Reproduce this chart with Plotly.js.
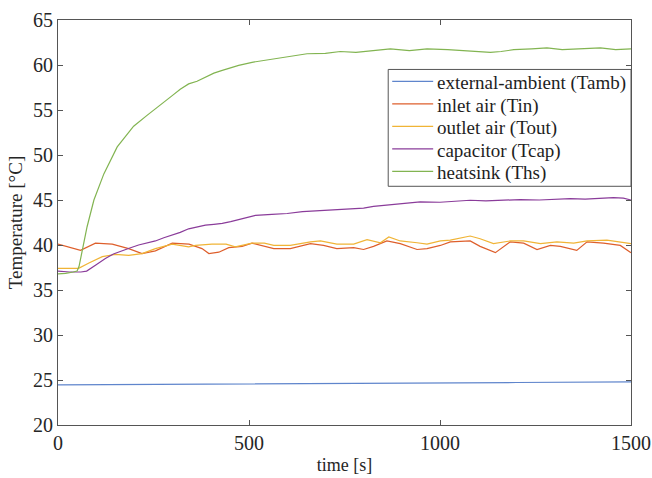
<!DOCTYPE html>
<html><head><meta charset="utf-8">
<script src="https://cdn.plot.ly/plotly-3.0.1.min.js"></script>
<style>html,body{margin:0;padding:0;background:#fff}#chart{width:652px;height:478px}</style>
</head><body><div id="chart"></div>
<script>
const ambT = [0, 300, 600, 900, 1200, 1500];
const ambV = [24.45, 24.5, 24.6, 24.65, 24.72, 24.8];

const inT = [0,28,59,98,142,185,220,255,299,343,377,395,421,447,482,508,540,565,608,661,695,730,774,800,826,861,896,940,966,1001,1027,1079,1105,1145,1184,1219,1254,1289,1315,1358,1385,1428,1472,1500];
const inV = [40.1,39.8,39.4,40.2,40.1,39.6,39.05,39.35,40.2,40.1,39.6,39.05,39.2,39.7,39.85,40.2,39.9,39.6,39.6,40.15,39.95,39.6,39.7,39.5,39.85,40.45,40.15,39.5,39.6,39.95,40.35,40.45,39.85,39.15,40.35,40.2,39.5,39.95,39.85,39.4,40.35,40.2,39.95,39.15];

const outT = [0,54,81,116,150,185,220,255,299,342,360,403,440,464,508,540,565,608,661,687,730,774,809,844,866,896,940,966,1001,1027,1079,1105,1140,1184,1219,1263,1306,1350,1385,1437,1500];
const outV = [37.4,37.4,38.0,38.7,38.95,38.85,39.05,39.6,40.1,39.8,39.95,40.1,40.1,39.8,40.2,40.2,39.95,39.95,40.35,40.45,40.1,40.1,40.6,40.25,40.9,40.45,40.25,40.1,40.45,40.55,41.0,40.7,40.15,40.45,40.45,40.15,40.35,40.2,40.45,40.55,40.15];

const capT = [0,30,60,75,100,124,145,168,190,211,233,255,277,299,320,342,364,386,408,430,452,482,517,560,600,640,687,720,760,800,826,870,910,948,1000,1040,1079,1120,1160,1210,1260,1300,1341,1380,1420,1454,1480,1500];
const capV = [37.1,37.0,37.0,37.1,37.8,38.5,39.0,39.4,39.7,40.0,40.2,40.45,40.8,41.1,41.4,41.8,42.0,42.2,42.3,42.4,42.6,42.9,43.3,43.4,43.5,43.7,43.8,43.9,43.95,44.1,44.3,44.5,44.6,44.8,44.75,44.9,44.97,44.9,45.0,45.05,45.0,45.1,45.15,45.1,45.2,45.27,45.2,45.0];

const hsT = [0,20,40,50,55,63,76,94,120,155,198,233,255,277,299,320,342,364,386,408,430,452,473,508,540,565,600,652,700,739,780,826,870,920,966,1020,1062,1100,1132,1160,1193,1240,1280,1320,1367,1420,1460,1500];
const hsV = [36.8,36.85,37.0,37.1,37.6,39.4,42.0,45.0,47.9,50.9,53.2,54.4,55.1,55.9,56.6,57.3,57.9,58.2,58.65,59.1,59.4,59.7,59.95,60.3,60.5,60.7,60.9,61.25,61.3,61.5,61.4,61.6,61.8,61.6,61.8,61.7,61.6,61.5,61.4,61.5,61.7,61.8,61.9,61.7,61.8,61.9,61.7,61.8];

const names = ['external-ambient (Tamb)','inlet air (Tin)','outlet air (Tout)','capacitor (Tcap)','heatsink (Ths)'];
const colors = ['#5f85cc','#de5f2c','#f0b436','#8a3c9a','#82b451'];
const xs = [ambT, inT, outT, capT, hsT];
const ys = [ambV, inV, outV, capV, hsV];

const traces = names.map((n,i)=>({
  x: xs[i], y: ys[i], name: n, type: 'scatter', mode: 'lines',
  line: {color: colors[i], width: 1.2}
}));

const fontFam = 'Liberation Serif, Times New Roman, serif';

// plot area geometry (px) for custom legend placement
const L = 57.5, R = 21, T = 19.5, B = 53, W = 652, H = 478;
const pw = W - L - R, ph = H - T - B;
const px2x = p => (p - L) / pw;
const py2y = p => (H - B - p) / ph;

const shapes = [{type: 'rect', xref: 'paper', yref: 'paper',
  x0: px2x(388), x1: 1, y0: py2y(186), y1: py2y(69),
  line: {color: '#555', width: 1}, fillcolor: '#fff', layer: 'above'}];
const annotations = [];
names.forEach((n, i) => {
  const cy = 83 + 22.5 * i;
  shapes.push({type: 'line', xref: 'paper', yref: 'paper',
    x0: px2x(392), x1: px2x(433), y0: py2y(cy - 2), y1: py2y(cy - 2),
    line: {color: colors[i], width: 1.2}, layer: 'above'});
  annotations.push({xref: 'paper', yref: 'paper', x: px2x(435), y: py2y(cy),
    xanchor: 'left', yanchor: 'middle', showarrow: false, text: n,
    font: {family: fontFam, size: 19, color: '#1e1e1e'}});
});

const axCommon = {
  showgrid: false, zeroline: false, showline: true, mirror: 'allticks',
  linecolor: '#555', linewidth: 1, ticks: 'inside', ticklen: 5, tickcolor: '#555',
  tickfont: {family: fontFam, size: 20, color: '#262626'}
};
const layout = {
  width: W, height: H,
  margin: {l: L, r: R, t: T, b: B},
  paper_bgcolor: '#fff', plot_bgcolor: '#fff',
  font: {family: fontFam, size: 19, color: '#262626'},
  showlegend: false,
  shapes: shapes, annotations: annotations,
  xaxis: Object.assign({}, axCommon, {range: [0, 1500], tickvals: [0, 500, 1000, 1500],
    title: {text: 'time [s]', font: {family: fontFam, size: 18, color: '#262626'}, standoff: 5}}),
  yaxis: Object.assign({}, axCommon, {range: [20, 65], tickvals: [20,25,30,35,40,45,50,55,60,65],
    title: {text: 'Temperature [°C]', font: {family: fontFam, size: 19, color: '#262626'}, standoff: 5}})
};
Plotly.newPlot('chart', traces, layout, {displayModeBar: false, staticPlot: true});
</script></body></html>
